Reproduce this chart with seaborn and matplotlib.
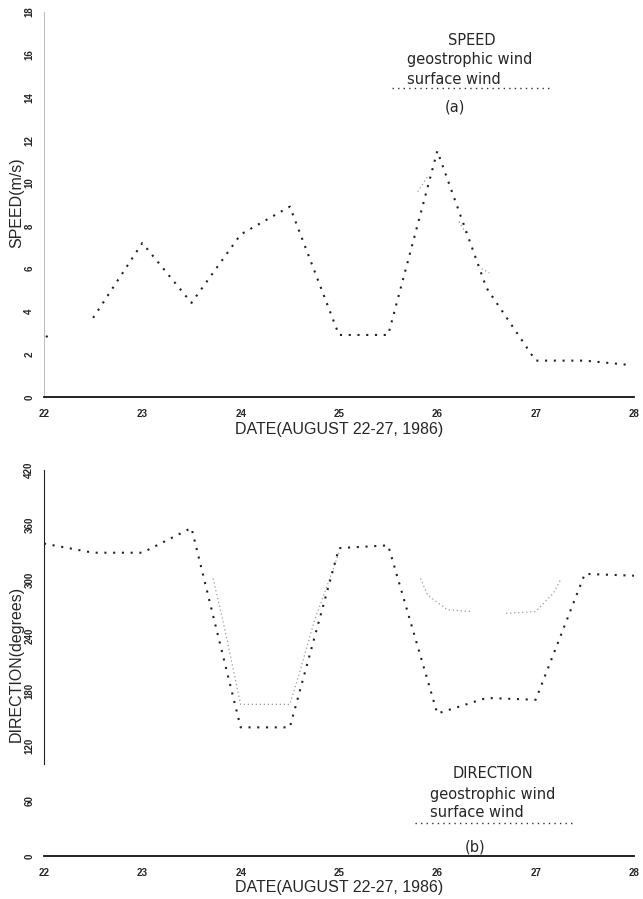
import numpy as np
import pandas as pd
import matplotlib
matplotlib.use("Agg")
import matplotlib.pyplot as plt
import seaborn as sns
from matplotlib.lines import Line2D

sns.set_style("white")
plt.rcParams['font.family'] = ['Liberation Sans', 'DejaVu Sans']

# ---------------------------------------------------------------
# data (day of August 1986)
# ---------------------------------------------------------------
# surface speed: a short fragment near day 22, then the continuous trace
speed_days = [22.02, 22.08, np.nan, 22.5, 23.0, 23.5, 24.0, 24.5, 25.0, 25.5,
              26.0, 26.5, 27.0, 27.5, 27.95]
surface_speed = [2.8, 3.0, np.nan, 3.7, 7.2, 4.4, 7.6, 8.9, 2.9, 2.9,
                 11.5, 5.1, 1.7, 1.7, 1.5]

# geostrophic speed: only faint fragments survive in the print
geo_speed_days = [25.8, 25.9, np.nan, 26.22, 26.3, np.nan, 26.45, 26.53]
geo_speed = [9.6, 10.3, np.nan, 8.2, 7.6, np.nan, 6.0, 5.8]

dir_days = [22.0, 22.5, 23.0, 23.5, 24.0, 24.5, 25.0, 25.5, 26.0, 26.5, 27.0, 27.5, 28.0]
surface_dir = [340, 330, 330, 357, 140, 140, 335, 338, 155, 172, 170, 307, 305]

geo_dir_days = [23.72, 23.75, 23.82, 24.0, 24.5, 24.6, 24.75, 24.9, 25.0,
                np.nan, 25.83, 25.9, 26.1, 26.35, np.nan, 26.7, 27.0, 27.18, 27.25]
geo_dir = [302, 288, 256, 165, 165, 200, 256, 300, 330,
           np.nan, 302, 284, 268, 266, np.nan, 264, 266, 286, 300]

day_ticks = [22, 23, 24, 25, 26, 27, 28]
speed_ticks = list(range(0, 19, 2))
dir_ticks = [0, 60, 120, 180, 240, 300, 360, 420]


def segments(days, values):
    # split a series at NaN gaps so each piece is drawn separately
    seg, rows = 0, []
    for d, v in zip(days, values):
        if np.isnan(d):
            seg += 1
            continue
        rows.append({"day": d, "value": v, "seg": seg})
    return pd.DataFrame(rows)


surf_sp = segments(speed_days, surface_speed)
geo_sp = segments(geo_speed_days, geo_speed)
surf_dr = pd.DataFrame({"day": dir_days, "value": surface_dir})
geo_dr = segments(geo_dir_days, geo_dir)

fig = plt.figure(figsize=(6.43, 8.99), dpi=100)
ax1 = fig.add_axes([0.0684, 0.5584, 0.9176, 0.4283])
ax2 = fig.add_axes([0.0684, 0.0478, 0.9176, 0.4294])

surf_style = dict(color="#222222", linewidth=1.5, linestyle=(0, (1, 3.2)))
geo_style = dict(color="#9a9a9a", linewidth=0.9, linestyle=(0, (1, 2.2)))

sns.lineplot(data=geo_sp, x="day", y="value", units="seg", estimator=None,
             ax=ax1, **geo_style)
sns.lineplot(data=surf_sp, x="day", y="value", units="seg", estimator=None,
             ax=ax1, **surf_style)
sns.lineplot(data=geo_dr, x="day", y="value", units="seg", estimator=None,
             ax=ax2, **geo_style)
sns.lineplot(data=surf_dr, x="day", y="value", ax=ax2, **surf_style)

for ax, yt, ylim in [(ax1, speed_ticks, (0, 18)), (ax2, dir_ticks, (0, 420))]:
    ax.set_xlim(22, 28)
    ax.set_ylim(*ylim)
    ax.set_xticks(day_ticks)
    ax.set_xticklabels([str(d) for d in day_ticks], fontsize=7, fontweight="bold")
    ax.set_yticks(yt)
    ax.set_yticklabels([str(v) for v in yt], fontsize=7, fontweight="bold",
                       rotation=90, va="center")
    ax.set_xlabel("")
    ax.set_ylabel("")
    ax.spines["top"].set_visible(False)
    ax.spines["right"].set_visible(False)
    ax.spines["bottom"].set_color("#111111")
    ax.spines["bottom"].set_linewidth(1.3)
    ax.tick_params(axis="x", direction="inout", length=5, width=0.8, pad=6,
                   color="#111111")
    ax.tick_params(axis="y", direction="in", length=3, width=0.6, pad=7,
                   color="#555555")
    ax.set_facecolor("white")

ax1.spines["left"].set_color("#b0b0b0")
ax1.spines["left"].set_linewidth(0.6)
ax2.spines["left"].set_color("#222222")
ax2.spines["left"].set_linewidth(0.8)
ax2.spines["left"].set_bounds(100, 420)

# axis titles
fig.text(0.527, 0.5217, "DATE(AUGUST 22-27, 1986)", ha="center", va="center", fontsize=11.5)
fig.text(0.527, 0.0125, "DATE(AUGUST 22-27, 1986)", ha="center", va="center", fontsize=11.5)
fig.text(0.026, 0.774, "SPEED(m/s)", rotation=90, ha="center", va="center", fontsize=11.5)
fig.text(0.026, 0.262, "DIRECTION(degrees)", rotation=90, ha="center", va="center", fontsize=11.5)

# hand-drawn style legends
leg_font = dict(fontsize=10.5, family=["DejaVu Sans"])
fig.text(0.734, 0.9555, "SPEED", ha="center", va="center", **leg_font)
fig.text(0.633, 0.9333, "geostrophic wind", ha="left", va="center", **leg_font)
fig.text(0.633, 0.912, "surface wind", ha="left", va="center", **leg_font)
fig.add_artist(Line2D([0.610, 0.855], [0.902, 0.902], transform=fig.transFigure,
                      color="#333333", linewidth=1.0, linestyle=(0, (1, 3))))
fig.text(0.708, 0.881, "(a)", ha="center", va="center", **leg_font)

fig.text(0.767, 0.140, "DIRECTION", ha="center", va="center", **leg_font)
fig.text(0.669, 0.1157, "geostrophic wind", ha="left", va="center", **leg_font)
fig.text(0.669, 0.0957, "surface wind", ha="left", va="center", **leg_font)
fig.add_artist(Line2D([0.645, 0.890], [0.0845, 0.0845], transform=fig.transFigure,
                      color="#333333", linewidth=1.0, linestyle=(0, (1, 3))))
fig.text(0.739, 0.0578, "(b)", ha="center", va="center", **leg_font)

fig.savefig("out.png", dpi=100, facecolor="white")
